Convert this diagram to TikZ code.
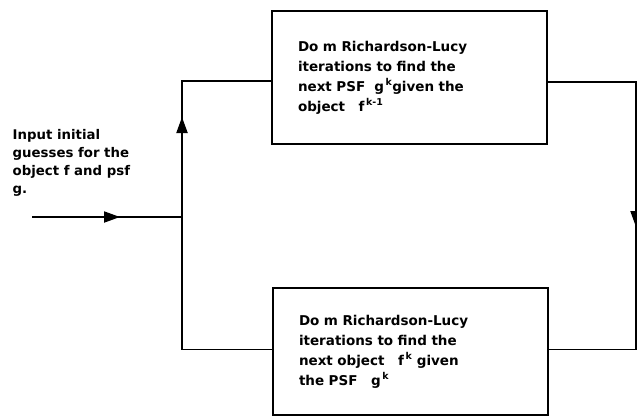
\documentclass[tikz,border=0pt]{standalone}
\usepackage{fontspec}
\setmainfont{DejaVu Sans}
\usetikzlibrary{arrows.meta}
\tikzset{
  x=1pt, y=-1pt,
  stepbox/.style={draw, line width=2.3pt, minimum width=275pt, minimum height=133pt,
    text width=223pt, inner xsep=26pt, align=left, font=\fontsize{13.5}{20}\selectfont\bfseries},
  conn/.style={line width=1.9pt},
  tri/.style={-{Triangle[length=16pt,width=11pt]}},
  intext/.style={align=left, font=\fontsize{13.3}{18}\selectfont\bfseries, inner sep=0pt}
}
\begin{document}
\begin{tikzpicture}
\useasboundingbox (0,0) rectangle (637,418);
\node[stepbox] (top) at (409.5,77.5) {Do m Richardson-Lucy\\iterations to find the\\next PSF\ \ g\textsuperscript{\,k}given the\\object\ \ \ f\textsuperscript{\,k-1}};
\node[stepbox, minimum height=127pt] (bot) at (410.5,351.5) {Do m Richardson-Lucy\\iterations to find the\\next object\ \ \ f\textsuperscript{\,k} given\\the PSF\ \ \ g\textsuperscript{\,k}};
\node[intext, anchor=north west] (inp) at (12.5,129.5) {Input initial\\guesses for the\\object f and psf\\g.};
\coordinate (tl) at (182,81);
\coordinate (bl) at (182,349.5);
\coordinate (tr) at (636,82);
\coordinate (br) at (636,349.5);
\coordinate (ij) at (182,217);
\coordinate (is) at (32,217);
\coordinate (upt) at (182,117);
\coordinate (itip) at (120,217);
\coordinate (rtip) at (636,227);
% left loop
\draw[conn] (bl -| bot.west) -- (bl) -- (tl) -- (tl -| top.west);
\draw[conn, tri] (bl) -- (upt);
% right loop
\draw[conn] (tr -| top.east) -- (tr) -- (br) -- (br -| bot.east);
\draw[conn, tri] (tr) -- (rtip);
% input
\draw[conn] (is) -- (ij);
\draw[conn, tri] (is) -- (itip);
\end{tikzpicture}
\end{document}
